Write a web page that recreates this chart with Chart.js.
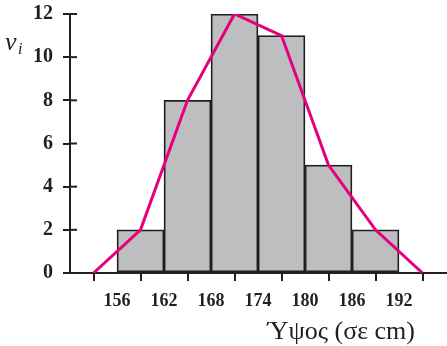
<!DOCTYPE html>
<html>
<head>
<meta charset="utf-8">
<script src="https://cdn.jsdelivr.net/npm/chart.js@4.4.0/dist/chart.umd.min.js"></script>
<style>
  body { margin: 0; background: #fff; }
  #wrap { width: 447px; height: 346px; position: relative; }
</style>
</head>
<body>
<div id="wrap"><canvas id="histChart"></canvas></div>
<script>
// class midpoints and frequencies
const midpoints = [159, 165, 171, 177, 183, 189];
const frequencies = [2, 8, 12, 11, 5, 2];
// frequency polygon
const polyX = [153, 159, 165, 171, 177, 183, 189, 195];
const polyY = [0, 2, 8, 12, 11, 5, 2, 0];
const xTickLabels = [156, 162, 168, 174, 180, 186, 192];

const ink = "#231f20";

// inward half of the y ticks, plus the axis captions
const extras = {
  id: "extras",
  afterDraw(chart) {
    const ctx = chart.ctx;
    const y = chart.scales.y;
    const left = chart.chartArea.left;
    ctx.save();
    ctx.strokeStyle = ink;
    ctx.lineWidth = 2;
    y.ticks.forEach((t) => {
      const py = y.getPixelForValue(t.value);
      ctx.beginPath();
      ctx.moveTo(left, py);
      ctx.lineTo(left + 7, py);
      ctx.stroke();
    });
    ctx.fillStyle = ink;
    ctx.textBaseline = "alphabetic";
    ctx.font = "26px 'Liberation Serif'";
    ctx.textAlign = "right";
    ctx.fillText("Ύψος (σε cm)", 415, 339);
    ctx.textAlign = "left";
    ctx.font = "italic 26px 'Liberation Serif'";
    ctx.fillText("ν", 5, 50);
    ctx.font = "italic 16px 'Liberation Serif'";
    ctx.fillText("i", 18, 54);
    ctx.restore();
  },
};

function drawHistogram() {
  const ctx = document.getElementById("histChart").getContext("2d");
  Chart.defaults.font.family = "'Liberation Serif', serif";
  Chart.defaults.color = ink;

  const chart = new Chart(ctx, {
    type: "bar",
    data: {
      datasets: [
        {
          type: "line",
          data: polyX.map((x, i) => ({ x: x, y: polyY[i] })),
          borderColor: "#e6007e",
          borderWidth: 3,
          pointRadius: 0,
          tension: 0,
          order: 0,
        },
        {
          type: "bar",
          data: midpoints.map((x, i) => ({ x: x, y: frequencies[i] })),
          backgroundColor: "#bdbec0",
          borderColor: ink,
          borderWidth: 1.8,
          borderSkipped: false,
          barPercentage: 1,
          categoryPercentage: 1,
          order: 1,
        },
      ],
    },
    options: {
      responsive: true,
      maintainAspectRatio: false,
      animation: false,
      layout: { padding: { top: 14, right: 1 } },
      plugins: { legend: { display: false }, tooltip: { enabled: false } },
      scales: {
        x: {
          type: "linear",
          min: 150,
          max: 198,
          offset: false,
          afterFit: (s) => { s.height = 73; s.paddingLeft = 0; s.paddingRight = 0; },
          ticks: {
            stepSize: 6,
            padding: 10,
            maxRotation: 0,
            font: { size: 18, weight: "bold" },
            callback: (v) => (xTickLabels.includes(v) ? String(v) : ""),
          },
          grid: { drawOnChartArea: false, drawTicks: true, tickLength: 8, color: ink, lineWidth: 2 },
          border: { display: true, color: ink, width: 2 },
        },
        y: {
          min: 0,
          max: 12,
          afterFit: (s) => { s.width = 70; s.paddingTop = 0; s.paddingBottom = 0; },
          ticks: {
            stepSize: 2,
            padding: 10,
            font: { size: 20, weight: "bold" },
          },
          grid: { drawOnChartArea: false, drawTicks: true, tickLength: 7, color: ink, lineWidth: 2 },
          border: { display: true, color: ink, width: 2 },
        },
      },
    },
    plugins: [extras],
  });
}

document.addEventListener("DOMContentLoaded", function () {
  drawHistogram();
});
</script>
</body>
</html>
